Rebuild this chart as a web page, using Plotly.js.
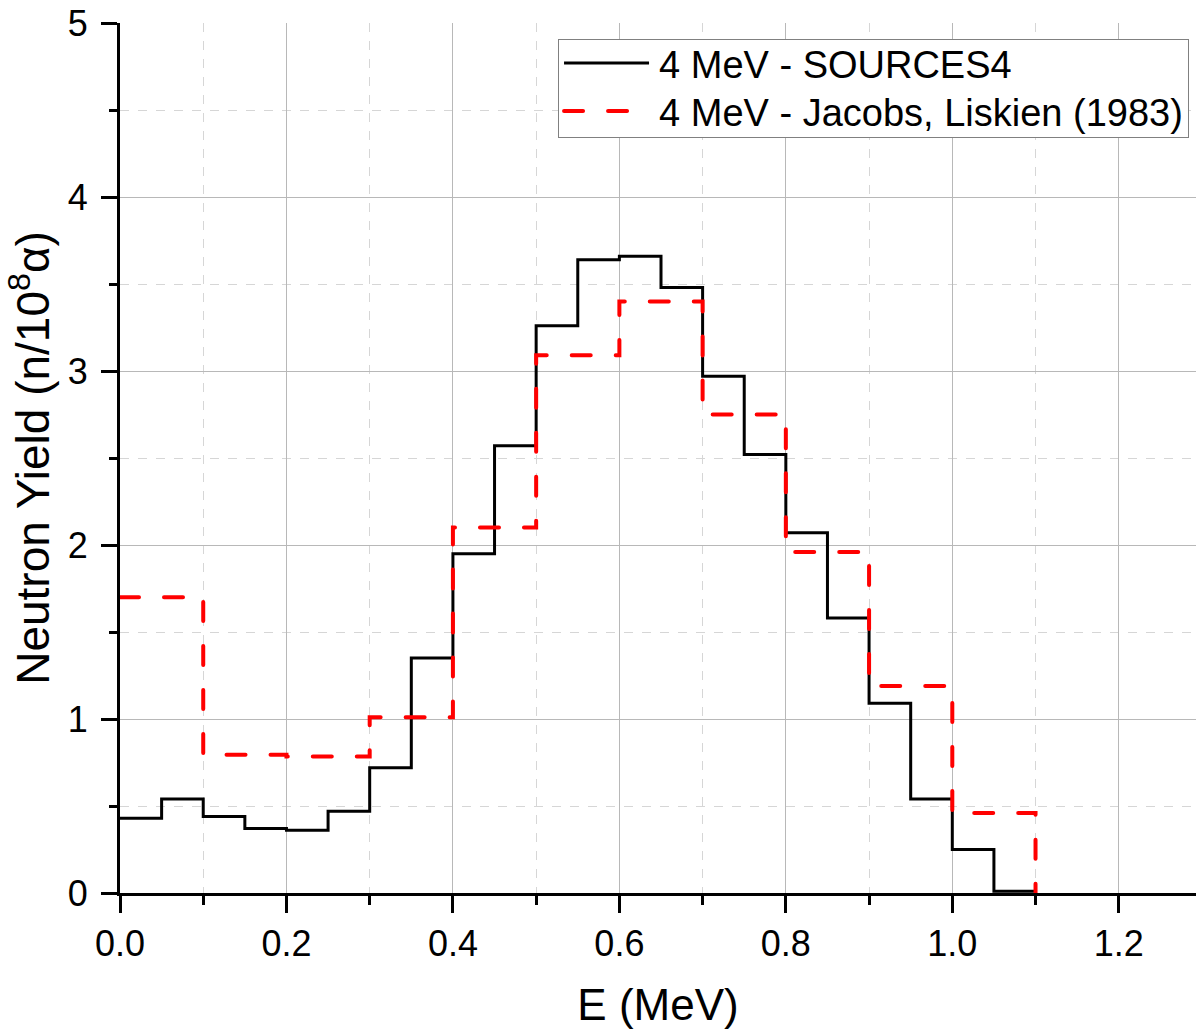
<!DOCTYPE html>
<html>
<head>
<meta charset="utf-8">
<script src="https://cdn.plot.ly/plotly-3.0.1.min.js"></script>
<style>
html, body { margin: 0; padding: 0; overflow: hidden; background: #fff; }
#chart { width: 1196px; height: 1034px; }
</style>
</head>
<body>
<div id="chart"></div>
<script>
// Bin edges (MeV)
const edgesSources4 = [0.00, 0.05, 0.10, 0.15, 0.20, 0.25, 0.30, 0.35, 0.40, 0.45, 0.50, 0.55,
                       0.60, 0.65, 0.70, 0.75, 0.80, 0.85, 0.90, 0.95, 1.00, 1.05, 1.10];
// Neutron yield per bin (n/1e8 alpha), last entry closes the histogram at zero
const yieldSources4 = [0.43, 0.54, 0.44, 0.37, 0.36, 0.47, 0.72, 1.35, 1.95, 2.57, 3.26, 3.64,
                       3.66, 3.48, 2.97, 2.52, 2.07, 1.58, 1.09, 0.54, 0.25, 0.01, 0];

const edgesJacobs = [0.0, 0.1, 0.2, 0.3, 0.4, 0.5, 0.6, 0.7, 0.8, 0.9, 1.0, 1.1];
const yieldJacobs = [1.70, 0.795, 0.785, 1.01, 2.10, 3.09, 3.40, 2.75, 1.96, 1.19, 0.46, 0];

const seriesNames = ['4 MeV - SOURCES4', '4 MeV - Jacobs, Liskien (1983)'];
const xTitle = 'E (MeV)';
const yTitle = 'Neutron Yield (n/10<sup>8</sup>α)';

// visible part of the (cropped) energy axis
const xRange = [0, 1.2928];
const yRange = [0, 5];

const FONT = '"Liberation Sans", Arial, Helvetica, sans-serif';

const traces = [
  {
    x: edgesSources4, y: yieldSources4, name: seriesNames[0],
    type: 'scatter', mode: 'lines',
    line: { shape: 'hv', color: '#000000', width: 3 }
  },
  {
    x: edgesJacobs, y: yieldJacobs, name: seriesNames[1],
    type: 'scatter', mode: 'lines',
    line: { shape: 'hv', color: '#ff0000', width: 4, dash: '19px,25px' }
  }
];

const majorGrid = '#b8b8b8';
const minorGrid = '#d6d6d6';

const layout = {
  width: 1196, height: 1034,
  margin: { l: 120, r: 0, t: 23, b: 141 },
  paper_bgcolor: '#ffffff', plot_bgcolor: '#ffffff',
  font: { family: FONT, color: '#000000', size: 36 },
  showlegend: true,
  legend: {
    x: 0.4071, y: 0.9816, xanchor: 'left', yanchor: 'top',
    bgcolor: '#ffffff', bordercolor: '#808080', borderwidth: 1,
    font: { family: FONT, size: 38, color: '#000000' },
    itemwidth: 90, tracegroupgap: 0
  },
  xaxis: {
    range: xRange, dtick: 0.2, tick0: 0, tickformat: '.1f',
    ticks: 'outside', ticklen: 17, tickwidth: 3, tickcolor: '#000',
    showline: true, linewidth: 3, linecolor: '#000', mirror: false,
    showgrid: true, gridcolor: majorGrid, gridwidth: 1,
    zeroline: false,
    tickfont: { family: FONT, size: 36, color: '#000' },
    minor: { dtick: 0.1, tick0: 0, ticks: 'outside', ticklen: 9, tickwidth: 3, tickcolor: '#000',
             showgrid: true, gridcolor: minorGrid, griddash: 'dash', gridwidth: 1 },
    title: { text: xTitle, font: { family: FONT, size: 44, color: '#000' }, standoff: 26 }
  },
  yaxis: {
    range: yRange, dtick: 1, tick0: 0,
    ticks: 'outside', ticklen: 16, tickwidth: 3, tickcolor: '#000',
    ticklabelstandoff: 6,
    showline: true, linewidth: 3, linecolor: '#000', mirror: false,
    showgrid: true, gridcolor: majorGrid, gridwidth: 1,
    zeroline: false,
    tickfont: { family: FONT, size: 36, color: '#000' },
    minor: { dtick: 0.5, tick0: 0, ticks: 'outside', ticklen: 8, tickwidth: 3, tickcolor: '#000',
             showgrid: true, gridcolor: minorGrid, griddash: 'dash', gridwidth: 1 },
    title: { text: yTitle, font: { family: FONT, size: 46, color: '#000' }, standoff: 4 }
  },
  xaxis2: {
    overlaying: 'x', side: 'top', anchor: 'y', range: xRange, dtick: 0.2, tick0: 0,
    ticks: 'inside', ticklen: 16, tickwidth: 3, tickcolor: '#000',
    showline: true, linewidth: 3, linecolor: '#000',
    showticklabels: false, showgrid: false, zeroline: false,
    minor: { dtick: 0.1, tick0: 0, ticks: 'inside', ticklen: 8, tickwidth: 3, tickcolor: '#000', showgrid: false }
  },
  yaxis2: {
    overlaying: 'y', side: 'right', anchor: 'x', range: yRange, dtick: 1, tick0: 0,
    ticks: 'inside', ticklen: 11, tickwidth: 3, tickcolor: '#000',
    showline: false,
    showticklabels: false, showgrid: false, zeroline: false,
    minor: { dtick: 0.5, tick0: 0, ticks: 'inside', ticklen: 3, tickwidth: 3, tickcolor: '#000', showgrid: false }
  }
};

function finishStyling() {
  // rounded dash ends on the red histogram, as in the original
  document.querySelectorAll('.scatterlayer .trace .js-line').forEach(function (p) {
    if ((p.style.stroke || '').indexOf('255, 0, 0') >= 0) p.style.strokeLinecap = 'round';
  });
  const lg = document.querySelector('g.legend');
  if (!lg) return;
  lg.querySelectorAll('.legendlines path').forEach(function (p) {
    p.setAttribute('d', 'M5,0h85');
    if ((p.style.stroke || '').indexOf('255, 0, 0') >= 0) p.style.strokeLinecap = 'round';
  });
  const rowTop = 24, rowStep = 48;
  lg.querySelectorAll('g.traces').forEach(function (g, i) {
    const m = /translate\(\s*([-\d.eE]+)[ ,]+([-\d.eE]+)\s*\)/.exec(g.getAttribute('transform') || '');
    const tx = m ? m[1] : 0;
    g.setAttribute('transform', 'translate(' + tx + ',' + (rowTop + rowStep * i) + ')');
  });
  const bg = lg.querySelector('rect.bg');
  if (bg) bg.setAttribute('height', 98);
}

Plotly.newPlot('chart', traces, layout, { staticPlot: true, displayModeBar: false }).then(finishStyling);
</script>
</body>
</html>
